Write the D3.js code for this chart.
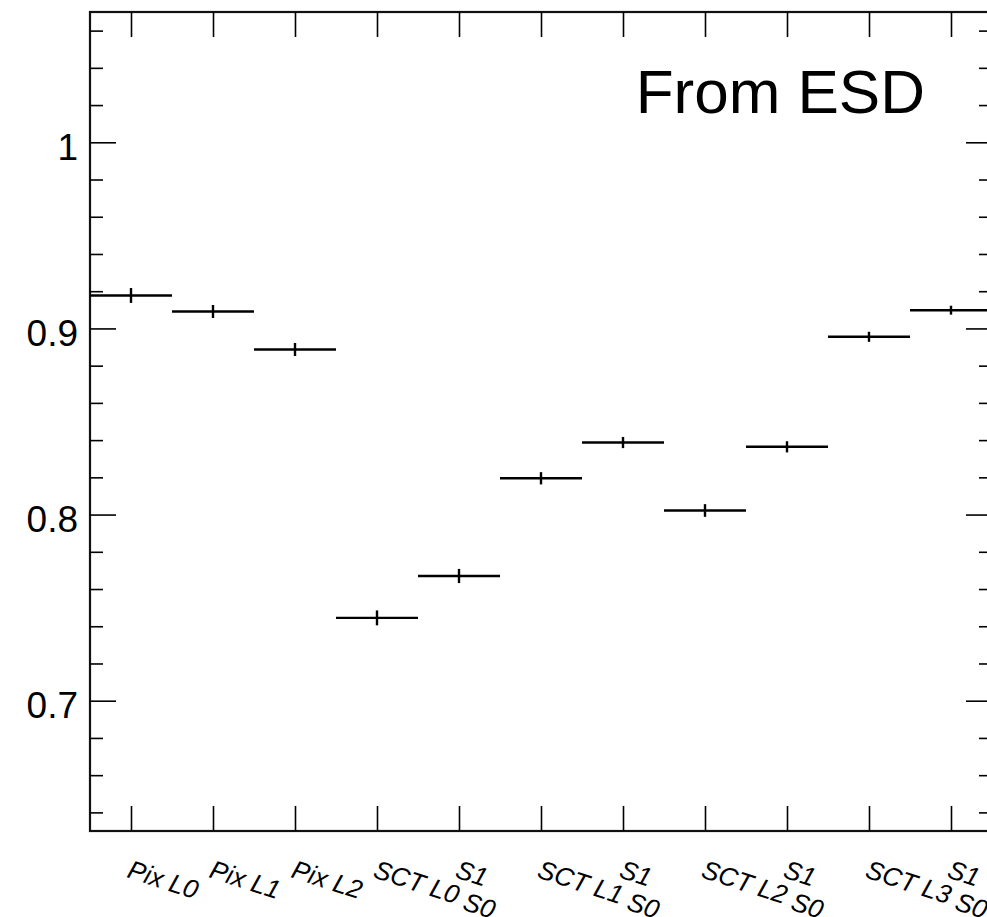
<!DOCTYPE html>
<html>
<head>
<meta charset="utf-8">
<script src="https://cdn.jsdelivr.net/npm/d3@7"></script>
<style>
  html, body { margin: 0; padding: 0; background: #fff; }
  svg { display: block; font-family: "Liberation Sans", Arial, Helvetica, sans-serif; }
</style>
</head>
<body>
<svg id="chart" width="987" height="917"></svg>
<script>
// ---- data ----
const categories = ["Pix L0", "Pix L1", "Pix L2", "SCT L0 S0", "S1", "SCT L1 S0", "S1", "SCT L2 S0", "S1", "SCT L3 S0", "S1"];
const values = [0.9177, 0.9091, 0.8887, 0.7445, 0.7670, 0.8195, 0.8387, 0.8022, 0.8364, 0.8955, 0.9098];
const errors = [0.0040, 0.0035, 0.0035, 0.0040, 0.0038, 0.0033, 0.0030, 0.0034, 0.0030, 0.0027, 0.0024];
const yMajorTicks = [0.7, 0.8, 0.9, 1.0];
const yTickLabels = ["0.7", "0.8", "0.9", "1"];
const yMinorTicks = [0.64, 0.66, 0.68, 0.72, 0.74, 0.76, 0.78, 0.82, 0.84, 0.86, 0.88, 0.92, 0.94, 0.96, 0.98, 1.02, 1.04, 1.06];
const annotation = "From ESD";

// ---- layout ----
const padL = 90, padR = 992, padT = 12, padB = 831;
const svg = d3.select("#chart");

const x = d3.scaleLinear().domain([0, categories.length]).range([padL, padR]);
const y = d3.scaleLinear().domain([0.63, 1.07]).range([padB, padT]);

// frame
svg.append("rect")
  .attr("x", padL).attr("y", padT)
  .attr("width", padR - padL).attr("height", padB - padT)
  .attr("fill", "none").attr("stroke", "#111").attr("stroke-width", 2.2);

function styleTicks(sel) {
  sel.select(".domain").remove();
  sel.selectAll(".tick line").attr("stroke", "#000").attr("stroke-width", 1.6);
}

// y axis (left) major
const yAxisL = svg.append("g").attr("transform", `translate(${padL},0)`)
  .call(d3.axisLeft(y).tickValues(yMajorTicks).tickSize(-26).tickPadding(12)
    .tickFormat((d, i) => yTickLabels[i]));
styleTicks(yAxisL);
yAxisL.selectAll(".tick text")
  .attr("font-size", 37).attr("fill", "#000").attr("dy", 17)
  .attr("font-family", "'Liberation Sans', Arial, sans-serif");

// y axis (left) minor
const yAxisLm = svg.append("g").attr("transform", `translate(${padL},0)`)
  .call(d3.axisLeft(y).tickValues(yMinorTicks).tickSize(-13).tickFormat(""));
styleTicks(yAxisLm);

// y axis (right) major + minor
const yAxisR = svg.append("g").attr("transform", `translate(${padR},0)`)
  .call(d3.axisRight(y).tickValues(yMajorTicks).tickSize(-26).tickFormat(""));
styleTicks(yAxisR);
const yAxisRm = svg.append("g").attr("transform", `translate(${padR},0)`)
  .call(d3.axisRight(y).tickValues(yMinorTicks).tickSize(-13).tickFormat(""));
styleTicks(yAxisRm);

// x ticks at bin centres (bottom and top)
const centers = categories.map((c, i) => i + 0.5);
const xAxisB = svg.append("g").attr("transform", `translate(0,${padB})`)
  .call(d3.axisBottom(x).tickValues(centers).tickSize(-25).tickFormat(""));
styleTicks(xAxisB);
const xAxisT = svg.append("g").attr("transform", `translate(0,${padT})`)
  .call(d3.axisTop(x).tickValues(centers).tickSize(-25).tickFormat(""));
styleTicks(xAxisT);

// x labels (rotated)
const angle = 18;
const lab = svg.append("g").attr("font-size", 26).attr("font-style", "italic").attr("fill", "#000");
categories.forEach((c, i) => {
  const cx = x(i + 0.5) - 5;
  const t = lab.append("text")
    .attr("transform", `translate(${cx},877) rotate(${angle})`)
    .attr("text-anchor", "start");
  const m = c.match(/^(.*) (S0)$/);
  if (m) {
    t.append("tspan").text(m[1]);
    t.append("tspan").attr("dx", 7).attr("dy", 3).text(m[2]);
  } else {
    t.text(c);
  }
});

// histogram markers: horizontal bin line + vertical error bar
const g = svg.append("g").attr("stroke", "#000").attr("stroke-width", 2.4);
values.forEach((v, i) => {
  g.append("line")
    .attr("x1", x(i)).attr("x2", x(i + 1))
    .attr("y1", y(v)).attr("y2", y(v));
  g.append("line")
    .attr("x1", x(i + 0.5)).attr("x2", x(i + 0.5))
    .attr("y1", y(v - errors[i])).attr("y2", y(v + errors[i]));
});

// annotation
svg.append("text")
  .attr("x", 925).attr("y", 113)
  .attr("text-anchor", "end")
  .attr("font-size", 62)
  .attr("fill", "#000")
  .text(annotation);
</script>
</body>
</html>
